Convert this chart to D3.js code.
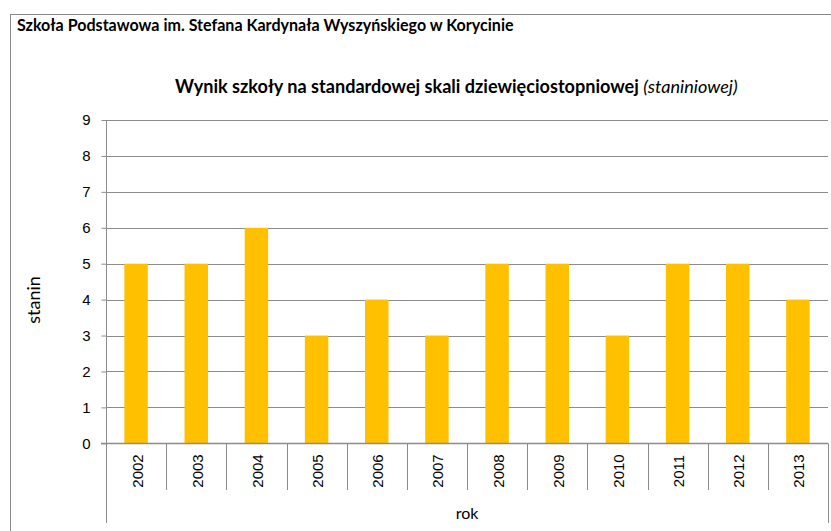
<!DOCTYPE html>
<html>
<head>
<meta charset="utf-8">
<script src="https://cdn.jsdelivr.net/npm/d3@7"></script>
<style>
  body { margin: 0; background: #fff; }
  text { fill: #000; }
</style>
</head>
<body>
<div id="chart"></div>
<script>
// Data
var years = ["2002", "2003", "2004", "2005", "2006", "2007", "2008", "2009", "2010", "2011", "2012", "2013"];
var stanin = [5, 5, 6, 3, 4, 3, 5, 5, 3, 5, 5, 4];
var yTicks = [0, 1, 2, 3, 4, 5, 6, 7, 8, 9];

var width = 831;
var height = 531;

// plot area (note: "top" is taken by window.top, so prefix everything)
var plotLeft = 106, plotRight = 828, plotTop = 120, plotBottom = 443.3;

var svg = d3.select("#chart")
  .append("svg")
  .attr("width", width)
  .attr("height", height);

// outer frame (runs off the right and bottom edge)
svg.append("rect")
  .attr("x", 10.5)
  .attr("y", 14.5)
  .attr("width", 840)
  .attr("height", 540)
  .attr("fill", "none")
  .attr("stroke", "#898989")
  .attr("stroke-width", 1);

// fit a text element to a given width by changing font size
function fitText(sel, target) {
  var node = sel.node();
  var fs = parseFloat(sel.attr("font-size"));
  var w = node.getComputedTextLength();
  sel.attr("font-size", fs * target / w);
}

var header = svg.append("text")
  .attr("x", 17)
  .attr("y", 31)
  .attr("font-family", "Lato, 'Open Sans', sans-serif")
  .attr("font-weight", "bold")
  .attr("font-size", 14)
  .text("Szkoła Podstawowa im. Stefana Kardynała Wyszyńskiego w Korycinie");
fitText(header, 497);

var title = svg.append("text")
  .attr("x", 175)
  .attr("y", 93)
  .attr("font-family", "Lato, 'Open Sans', sans-serif")
  .attr("font-size", 16);
title.append("tspan").attr("font-weight", "bold").text("Wynik szkoły na standardowej skali dziewięciostopniowej ");
title.append("tspan").attr("font-style", "italic").text("(staniniowej)");
fitText(title, 563);

var x = d3.scaleBand()
  .domain(years)
  .range([plotLeft, plotRight])
  .paddingInner(0)
  .paddingOuter(0);

var y = d3.scaleLinear()
  .domain([0, 9])
  .range([plotBottom, plotTop]);

// gridlines
svg.append("g")
  .selectAll("line")
  .data(yTicks.filter(function(d) { return d > 0; }))
  .enter()
  .append("line")
  .attr("x1", plotLeft)
  .attr("x2", plotRight)
  .attr("y1", function(d) { return Math.round(y(d)) + 0.5; })
  .attr("y2", function(d) { return Math.round(y(d)) + 0.5; })
  .attr("stroke", "#8c8c8c")
  .attr("stroke-width", 1);

// bars
var barW = x.bandwidth() * 0.39;
svg.append("g")
  .selectAll("rect")
  .data(years)
  .enter()
  .append("rect")
  .attr("x", function(d) { return x(d) + (x.bandwidth() - barW) / 2; })
  .attr("width", barW)
  .attr("y", function(d, i) { return y(stanin[i]); })
  .attr("height", function(d, i) { return plotBottom - y(stanin[i]); })
  .attr("fill", "#ffc000");

// y axis
var yAxis = d3.axisLeft(y)
  .tickValues(yTicks)
  .tickSize(5)
  .tickPadding(11)
  .tickFormat(d3.format("d"));

var gy = svg.append("g")
  .attr("transform", "translate(" + (plotLeft + 0.5) + ",0)")
  .call(yAxis);
gy.select(".domain").remove();
gy.selectAll(".tick line").attr("stroke", "#8c8c8c");
gy.selectAll(".tick text")
  .attr("font-family", "'Liberation Sans', Arial, sans-serif")
  .attr("font-size", 15)
  .attr("fill", "#000");

// y axis line, continues below the categories
svg.append("line")
  .attr("x1", plotLeft + 0.5).attr("x2", plotLeft + 0.5)
  .attr("y1", plotTop).attr("y2", 523)
  .attr("stroke", "#8c8c8c");
svg.append("line")
  .attr("x1", plotRight + 0.5).attr("x2", plotRight + 0.5)
  .attr("y1", plotBottom).attr("y2", 523)
  .attr("stroke", "#8c8c8c");

// x axis line
svg.append("line")
  .attr("x1", plotLeft - 5).attr("x2", plotRight)
  .attr("y1", Math.round(plotBottom) + 0.5).attr("y2", Math.round(plotBottom) + 0.5)
  .attr("stroke", "#8c8c8c")
  .attr("stroke-width", 1.5);

// category dividers
svg.append("g")
  .selectAll("line")
  .data(years.slice(1))
  .enter()
  .append("line")
  .attr("x1", function(d) { return Math.round(x(d)) + 0.5; })
  .attr("x2", function(d) { return Math.round(x(d)) + 0.5; })
  .attr("y1", plotBottom)
  .attr("y2", 490)
  .attr("stroke", "#8c8c8c");

// rotated year labels
svg.append("g")
  .selectAll("text")
  .data(years)
  .enter()
  .append("text")
  .attr("transform", function(d) {
    return "translate(" + (x(d) + x.bandwidth() / 2 + 6.5) + ",471) rotate(-90)";
  })
  .attr("text-anchor", "middle")
  .attr("font-family", "'Liberation Sans', Arial, sans-serif")
  .attr("font-size", 15)
  .text(function(d) { return d; });

// axis titles
svg.append("text")
  .attr("transform", "translate(40,300) rotate(-90)")
  .attr("text-anchor", "middle")
  .attr("font-family", "Lato, 'Open Sans', sans-serif")
  .attr("font-size", 18)
  .text("stanin");

svg.append("text")
  .attr("x", (plotLeft + plotRight) / 2)
  .attr("y", 519)
  .attr("text-anchor", "middle")
  .attr("font-family", "Lato, 'Open Sans', sans-serif")
  .attr("font-size", 16)
  .text("rok");
</script>
</body>
</html>
